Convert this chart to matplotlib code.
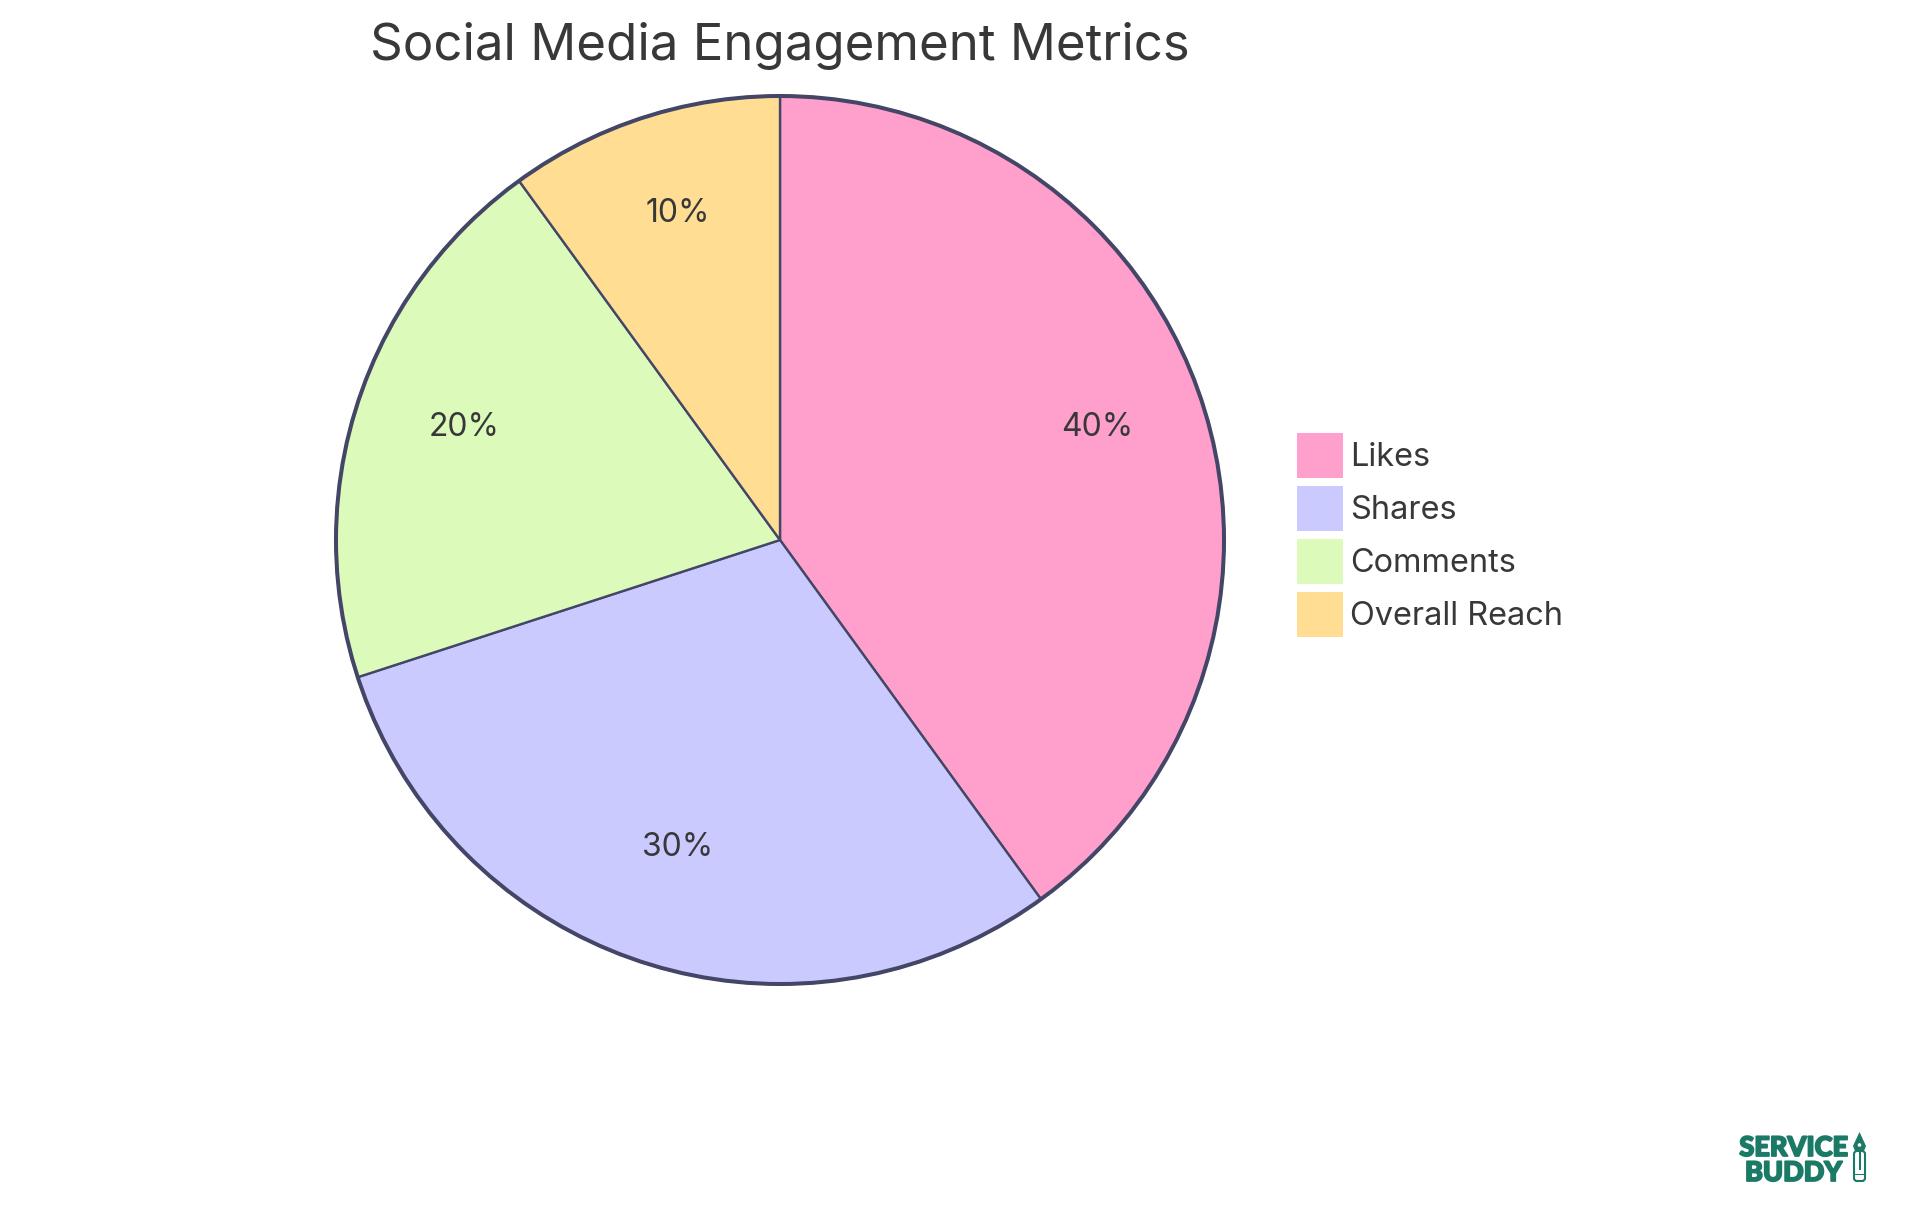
import matplotlib
matplotlib.use("Agg")
import matplotlib.pyplot as plt
import matplotlib.patheffects as pe
from matplotlib.patches import Circle, Patch, Polygon, FancyBboxPatch, Rectangle

plt.rcParams["font.family"] = ["Inter", "DejaVu Sans"]

labels = ["Likes", "Shares", "Comments", "Overall Reach"]
values = [40, 30, 20, 10]
colors = ["#FF9FCB", "#CACAFF", "#DCFBBB", "#FFDE94"]

title = "Social Media Engagement Metrics"
text_color = "#383838"
edge_color = "#434666"
logo_color = "#1B7A66"

W, H = 1920, 1215
cx, cy, r = 780, H - 540, 444

fig = plt.figure(figsize=(W / 100, H / 100), dpi=100)
ax = fig.add_axes([0, 0, 1, 1])

wedges, texts, autotexts = ax.pie(
    values,
    colors=colors,
    center=(cx, cy),
    radius=r,
    startangle=90,
    counterclock=False,
    autopct="%d%%",
    pctdistance=0.75,
    wedgeprops={"edgecolor": edge_color, "linewidth": 1.7},
    textprops={"fontsize": 23, "color": text_color},
)
ax.add_patch(Circle((cx, cy), r, fill=False, edgecolor=edge_color, linewidth=2.9))

# labels sit a little above their nominal radius in the original
for t in autotexts:
    x, y = t.get_position()
    t.set_position((x + 1, y + 9.5))

ax.set_xlim(0, W)
ax.set_ylim(0, H)
ax.set_aspect("equal")
ax.axis("off")

ax.text(cx, H - 60, title, ha="center", va="baseline", fontsize=36.7, color=text_color)

# legend
handles = [Patch(facecolor=c, edgecolor="none") for c in colors]
ax.legend(
    handles, labels,
    loc="upper left",
    bbox_to_anchor=(1297 / W, 1 - 433 / H),
    bbox_transform=fig.transFigure,
    frameon=False,
    fontsize=23.4,
    labelcolor=text_color,
    handlelength=1.42,
    handleheight=1.76,
    handletextpad=0.2,
    labelspacing=0.24,
    borderpad=0,
    borderaxespad=0,
)

# logo
heavy = [pe.withStroke(linewidth=1.3, foreground=logo_color)]
ax.text(1793.5, H - 1156, "SERVICE", ha="center", va="baseline", fontsize=19.5,
        family="Lato", weight="black", color=logo_color, path_effects=heavy)
ax.text(1793.5, H - 1181, "BUDDY", ha="center", va="baseline", fontsize=19.5,
        family="Lato", weight="black", color=logo_color, path_effects=heavy)
# pencil
ax.add_patch(Polygon([(1859.5, H - 1132), (1866, H - 1146), (1864, H - 1151), (1855, H - 1151), (1853, H - 1146)],
                     color=logo_color, lw=0))
ax.add_patch(Circle((1859.5, H - 1145), 1.8, color="white", lw=0))
ax.add_patch(FancyBboxPatch((1855, H - 1180), 9, 28, boxstyle="round,pad=1,rounding_size=3",
                            facecolor="white", edgecolor=logo_color, linewidth=1.5))
ax.add_patch(Rectangle((1858.5, H - 1170), 2, 18, facecolor=logo_color, lw=0))
ax.add_patch(Rectangle((1854, H - 1175), 11, 1.5, facecolor=logo_color, lw=0))

fig.savefig("out.png", dpi=100, facecolor="white")
